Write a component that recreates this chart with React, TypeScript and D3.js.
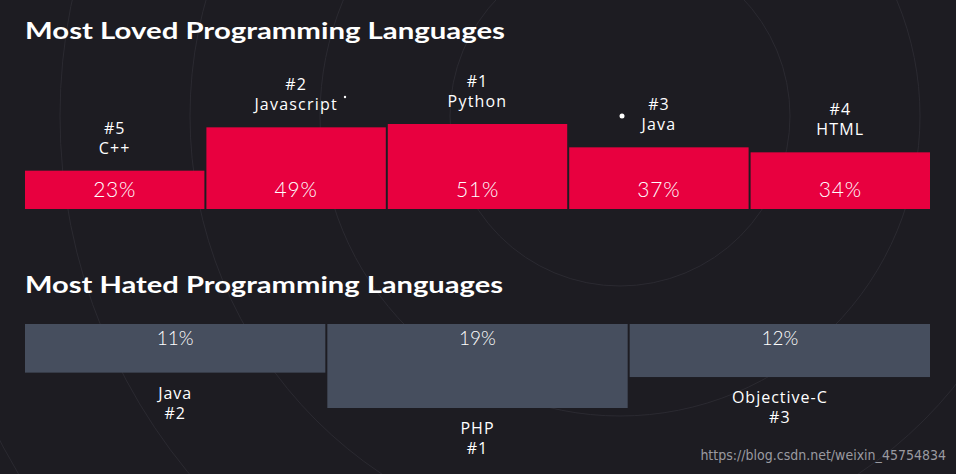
import React from "react";
import * as d3 from "d3";

const lovedLangs = ["C++", "Javascript", "Python", "Java", "HTML"];
const lovedRanks = ["#5", "#2", "#1", "#3", "#4"];
const lovedValues = [23, 49, 51, 37, 34];

const hatedLangs = ["Java", "PHP", "Objective-C"];
const hatedRanks = ["#2", "#1", "#3"];
const hatedValues = [11, 19, 12];

const W = 956;
const H = 474;
const BG = "#1d1c22";
const RED = "#e8003f";
const GREY = "#464e5e";
const FONT = "Lato, 'Open Sans', sans-serif";
const LABEL_FONT = "'Open Sans', Lato, sans-serif";

export default function App() {
  const xL = d3.scaleBand<string>().domain(lovedLangs).range([25, 930]).paddingInner(0.011);
  const yL = d3.scaleLinear().domain([0, 51]).range([209, 124]);

  const xH = d3.scaleBand<string>().domain(hatedLangs).range([25, 930]).paddingInner(0.0066);
  const yH = d3.scaleLinear().domain([0, 19]).range([324, 408]);

  const arcs = [170, 300, 430, 560, 700];

  return (
    <svg width={W} height={H} style={{ position: "absolute", left: 0, top: 0, display: "block" }}>
      <rect x={0} y={0} width={W} height={H} fill={BG} />
      <g fill="none" stroke="#34333b" strokeWidth={1} opacity={0.6}>
        {arcs.map((r) => (
          <circle key={r} cx={620} cy={116} r={r} />
        ))}
      </g>
      <circle cx={622} cy={116} r={2.5} fill="#ffffff" />
      <circle cx={345} cy={97} r={1.2} fill="#ffffff" />

      <text x={25} y={39} fill="#ffffff" fontFamily={FONT} fontWeight={700} fontSize={23} textLength={480} lengthAdjust="spacingAndGlyphs">
        Most Loved Programming Languages
      </text>

      {lovedLangs.map((lang, i) => {
        const x = xL(lang)!;
        const w = xL.bandwidth();
        const top = yL(lovedValues[i]);
        const cx = x + w / 2;
        return (
          <g key={lang}>
            <rect x={x} y={top} width={w} height={yL(0) - top} fill={RED} />
            <text x={cx} y={top - 37} textAnchor="middle" fill="#ffffff" fontFamily={LABEL_FONT} fontSize={16} letterSpacing={1}>
              {lovedRanks[i]}
            </text>
            <text x={cx} y={top - 17} textAnchor="middle" fill="#ffffff" fontFamily={LABEL_FONT} fontSize={16} letterSpacing={1.2}>
              {lang}
            </text>
            <text x={cx} y={197} textAnchor="middle" fill="#ffffff" fontFamily={FONT} fontWeight={300} fontSize={21} letterSpacing={0.8}>
              {lovedValues[i]}%
            </text>
          </g>
        );
      })}

      <text x={25} y={293} fill="#ffffff" fontFamily={FONT} fontWeight={700} fontSize={23} textLength={478} lengthAdjust="spacingAndGlyphs">
        Most Hated Programming Languages
      </text>

      {hatedLangs.map((lang, i) => {
        const x = xH(lang)!;
        const w = xH.bandwidth();
        const bottom = yH(hatedValues[i]);
        const cx = x + w / 2;
        return (
          <g key={lang}>
            <rect x={x} y={yH(0)} width={w} height={bottom - yH(0)} fill={GREY} />
            <text x={cx} y={345} textAnchor="middle" fill="#ffffff" fontFamily={FONT} fontWeight={300} fontSize={19}>
              {hatedValues[i]}%
            </text>
            <text x={cx} y={bottom + 26} textAnchor="middle" fill="#ffffff" fontFamily={LABEL_FONT} fontSize={16} letterSpacing={1}>
              {lang}
            </text>
            <text x={cx} y={bottom + 46} textAnchor="middle" fill="#ffffff" fontFamily={LABEL_FONT} fontSize={16} letterSpacing={1}>
              {hatedRanks[i]}
            </text>
          </g>
        );
      })}

      <text x={946} y={460} textAnchor="end" fill="#9a9aa0" fontFamily="'Liberation Sans Narrow', 'DejaVu Sans Condensed', sans-serif" fontSize={14}>
        https://blog.csdn.net/weixin_45754834
      </text>
    </svg>
  );
}
